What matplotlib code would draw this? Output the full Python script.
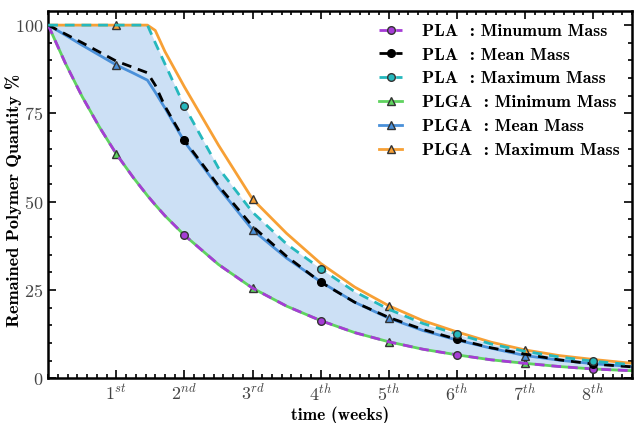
"""Remaining polymer quantity of PLA and PLGA over eight weeks."""
import matplotlib
matplotlib.use('Agg')
import matplotlib.pyplot as plt

plt.rcParams['font.family'] = 'serif'
plt.rcParams['font.serif'] = ['cmr10']
plt.rcParams['mathtext.fontset'] = 'cm'
plt.rcParams['axes.unicode_minus'] = False
plt.rcParams['axes.formatter.use_mathtext'] = True

# time in days
days = [0, 1.75, 3.5, 5.25, 7, 8.75, 10.2, 11, 12, 14, 17.5, 21, 24.5, 28, 31.5, 35, 38.5, 42, 45.5, 49, 52.5, 56, 60]

pla_min = [100, 89.3, 79.7, 71.2, 63.5, 56.8, 51.7, 49.1, 46.0, 40.5, 32.2, 25.5, 20.4, 16.3, 12.9, 10.3, 8.2, 6.6, 5.2, 4.2, 3.3, 2.6, 2.1]
pla_mean = [100, 97.5, 95.0, 92.4, 89.8, 88.0, 86.5, 83.0, 77.0, 67.4, 54.5, 43.0, 34.5, 27.2, 21.5, 17.2, 13.8, 11.0, 8.6, 6.8, 5.2, 4.0, 3.2]
pla_max = [100, 100, 100, 100, 100, 100, 100, 95.0, 89.0, 77.0, 59.5, 47.0, 38.0, 31.0, 24.5, 19.5, 15.5, 12.5, 9.7, 7.6, 6.0, 4.8, 3.8]
plga_min = [100, 89.3, 79.7, 71.2, 63.5, 56.8, 51.7, 49.1, 46.0, 40.5, 32.2, 25.5, 20.4, 16.3, 12.9, 10.3, 8.2, 6.6, 5.2, 4.2, 3.3, 2.6, 2.1]
plga_mean = [100, 97.2, 94.3, 91.5, 88.7, 86.4, 84.4, 81.0, 76.5, 67.0, 54.0, 42.0, 34.0, 27.3, 21.5, 17.0, 13.5, 10.8, 8.5, 6.4, 5.1, 4.1, 3.3]
plga_max = [100, 100, 100, 100, 100, 100, 100, 98.5, 92.5, 82.5, 66.0, 50.7, 41.0, 32.5, 25.8, 20.5, 16.3, 13.1, 10.2, 8.0, 6.4, 5.3, 4.2]

week_ticks = [7, 14, 21, 28, 35, 42, 49, 56]
week_labels = [r'$1^{st}$', r'$2^{nd}$', r'$3^{rd}$', r'$4^{th}$',
               r'$5^{th}$', r'$6^{th}$', r'$7^{th}$', r'$8^{th}$']

pla_marks = [9, 13, 17, 21]    # weeks 2,4,6,8
plga_marks = [4, 11, 15, 19]   # weeks 1,3,5,7

fig = plt.figure(figsize=(6.34, 4.23), dpi=100)
ax = fig.add_axes([0.076, 0.106, 0.921, 0.868])

ax.fill_between(days, plga_min, pla_max, color='#cce0f5', lw=0, zorder=1)

# PLGA solid lines underneath
l_plga_min, = ax.plot(days, plga_min, '-', color='#5fd35f', lw=2, marker='^', ms=5.5,
                      mfc='#5fd35f', mec='#333333', markevery=plga_marks, zorder=2)
l_plga_mean, = ax.plot(days, plga_mean, '-', color='#4a90d9', lw=2, marker='^', ms=5.5,
                       mfc='#4a90d9', mec='#333333', markevery=plga_marks, zorder=2)
l_plga_max, = ax.plot(days, plga_max, '-', color='#f7a035', lw=2, marker='^', ms=5.5,
                      mfc='#f7a035', mec='#333333', markevery=plga_marks, zorder=2)

# PLA dashed lines on top
l_pla_min, = ax.plot(days, pla_min, '--', color='#a63cd6', lw=2, dashes=(3.5, 2.5), marker='o', ms=5.5,
                     mfc='#a63cd6', mec='#333333', markevery=pla_marks, zorder=3)
l_pla_mean, = ax.plot(days, pla_mean, '--', color='black', lw=2, dashes=(3.5, 2.5), marker='o', ms=5.5,
                      mfc='black', mec='black', markevery=pla_marks, zorder=3)
l_pla_max, = ax.plot(days, pla_max, '--', color='#25b8bd', lw=2, dashes=(3.5, 2.5), marker='o', ms=5.5,
                     mfc='#25b8bd', mec='#333333', markevery=pla_marks, zorder=3)

ax.set_xlim(0, 60)
ax.set_ylim(0, 104)
ax.set_xticks(week_ticks)
ax.set_xticklabels(week_labels)
ax.set_xticks(range(0, 61), minor=True)
ax.set_yticks([0, 25, 50, 75, 100])
ax.set_yticks(range(0, 105, 5), minor=True)
ax.tick_params(which='both', direction='in', top=True, right=True, width=1.2,
               labelsize=13, labelcolor='#444444')
ax.tick_params(which='major', length=6)
ax.tick_params(which='minor', length=3)
for sp in ax.spines.values():
    sp.set_linewidth(1.8)

ax.set_xlabel('time (weeks)', family='cmb10', fontsize=12.5, labelpad=2)
ax.set_ylabel('Remained Polymer Quantity %', family='cmb10', fontsize=13.2)
ax.yaxis.set_label_coords(-0.045, 0.485)

handles = [l_pla_min, l_pla_mean, l_pla_max, l_plga_min, l_plga_mean, l_plga_max]
labels = ['PLA  : Minumum Mass', 'PLA  : Mean Mass', 'PLA  : Maximum Mass',
          'PLGA  : Minimum Mass', 'PLGA  : Mean Mass', 'PLGA  : Maximum Mass']
ax.legend(handles, labels, loc='upper right', frameon=False, handlelength=1.3,
          handletextpad=1.1, prop={'family': 'cmb10', 'size': 12.8}, labelspacing=0.47,
          borderaxespad=0.3, bbox_to_anchor=(1.0, 1.0))

fig.savefig('out.png', dpi=100)
